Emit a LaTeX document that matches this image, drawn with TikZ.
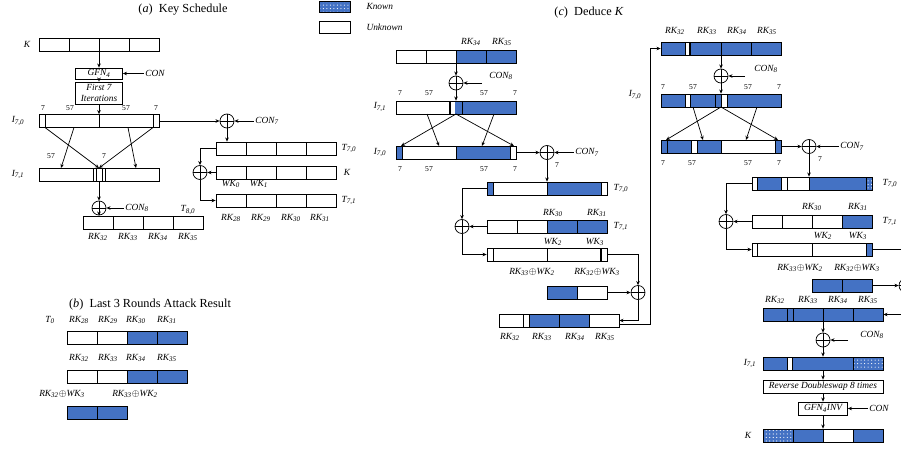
\documentclass[tikz,border=0pt]{standalone}
\usepackage{fontspec}
\setmainfont{Liberation Serif}
\usetikzlibrary{arrows.meta,patterns,positioning}

\definecolor{keyblue}{RGB}{68,114,196}
\newcommand{\ix}[2]{#1\textsubscript{#2}}

\tikzset{
  reg/.style={draw, inner sep=0pt, minimum height=0.39cm, minimum width=3.6cm},
  half/.style={reg, minimum width=1.8cm},
  known/.style={fill=keyblue},
  knowndot/.style={fill=keyblue, postaction={pattern=dots, pattern color=white}},
  xor/.style={circle, draw, inner sep=0pt, minimum size=0.42cm,
    path picture={\draw (path picture bounding box.north) -- (path picture bounding box.south)
                        (path picture bounding box.west) -- (path picture bounding box.east);}},
  lbl/.style={font=\fontsize{8}{9}\selectfont\itshape, inner sep=1pt},
  bits/.style={font=\fontsize{6.5}{7}\selectfont, inner sep=0pt},
  opbox/.style={draw, font=\fontsize{8}{9}\selectfont\itshape, inner sep=0pt, align=center},
  heading/.style={font=\fontsize{10.5}{12}\selectfont},
  wide/.style={line width=1.3pt}
}

\begin{document}
\begin{tikzpicture}[x=0.03cm, y=-0.03cm, line width=0.6pt, >={Stealth[length=3.5pt,width=3pt]}]
\useasboundingbox (0,0) rectangle (901,448);

% (a) key schedule
\node[heading] (ttla) at (183,10) {(\textit{a})\enspace Key Schedule};
\node[reg] (ka) at (99,44.5) {};
\foreach \x in {69,99,129} \draw (\x,38) -- (\x,51);
\node[lbl] (kla) at (27,44.5) {K};
\node[opbox, minimum width=1.41cm, minimum height=0.33cm] (gfn) at (99,73.5) {\ix{GFN}{4}};
\node[lbl] (cona) at (155,73.5) {CON};
\node[opbox, minimum width=1.41cm, minimum height=0.66cm] (firsta) at (99,93) {First 7\\Iterations};
\draw[->] (ka.south) -- (gfn.north);
\draw[->] (cona) -- (gfn);
\draw[->] (gfn.south) -- (firsta.north);

\node[reg] (i70a) at (99,121) {};
\foreach \x in {45,99,153} \draw (\x,114.5) -- (\x,127.5);
\draw[->] (firsta.south) -- (i70a.north);
\node[lbl] (li70a) at (18,121) {\ix{I}{7,0}};
\foreach \x/\t [count=\i] in {43/7,70/57,126/57,156/7} \node[bits] (ba\i) at (\x,108) {\t};

\node[reg] (i71a) at (99,174.5) {};
\foreach \x in {93,96,102,105} \draw (\x,168) -- (\x,181);
\node[lbl] (li71a) at (18,174.5) {\ix{I}{7,1}};
\coordinate (a7l) at (45,127.5);
\coordinate (a57l) at (74,127.5);
\coordinate (a57r) at (128,127.5);
\coordinate (a7r) at (153,127.5);
\coordinate (b57l) at (61,168);
\coordinate (b57r) at (136,168);
\coordinate (bmid) at (99,168);
\draw[->] (a57l) -- (b57l);
\draw[->] (a57r) -- (b57r);
\draw[->] (a7l) -- (bmid);
\draw[->] (a7r) -- (bmid);
\node[bits] (ba5) at (51,156) {57};
\node[bits] (ba6) at (104,156) {7};

\node[xor] (x8a) at (99,208) {};
\node[lbl] (con8a) at (137,208) {\ix{CON}{8}};
\draw[->] (i71a.south) -- (x8a);
\draw[->] (con8a) -- (x8a);
\node[reg] (t80a) at (143,222.5) {};
\foreach \x in {113,143,173} \draw (\x,216) -- (\x,229);
\draw[->] (x8a) -- (x8a |- t80a.north);
\node[lbl] (lt80a) at (188,210) {\ix{T}{8,0}};
\foreach \x/\n in {98/32,128/33,158/34,188/35} \node[lbl] (rka\n) at (\x,237) {\ix{RK}{\n}};

\node[xor] (x7a) at (227,121) {};
\node[lbl] (con7a) at (267,121) {\ix{CON}{7}};
\draw[->] (i70a.east) -- (x7a);
\draw[->] (con7a) -- (x7a);
\node[reg] (t70a) at (276,148.5) {};
\foreach \x in {246,276,306} \draw (\x,142) -- (\x,155);
\draw[->] (x7a) -- (x7a |- t70a.north);
\node[lbl] (lt70a) at (349,148.5) {\ix{T}{7,0}};
\node[reg] (k2a) at (276,172.5) {};
\foreach \x in {246,276,306} \draw (\x,166) -- (\x,179);
\node[lbl] (lk2a) at (347,172.5) {K};
\node[lbl] (wk0a) at (231,184) {\ix{WK}{0}};
\node[lbl] (wk1a) at (259,184) {\ix{WK}{1}};
\node[reg] (t71a) at (276,200.5) {};
\foreach \x in {246,276,306} \draw (\x,194) -- (\x,207);
\node[lbl] (lt71a) at (349,200.5) {\ix{T}{7,1}};
\foreach \x/\n in {231/28,261/29,291/30,320/31} \node[lbl] (rkb\n) at (\x,218) {\ix{RK}{\n}};
\node[xor] (xka) at (200,172.5) {};
\draw[->] (t70a.west) -| (xka);
\draw[->] (k2a.west) -- (xka);
\draw[->] (xka) |- (t71a.west);

% (b) attack result
\node[heading] (ttlb) at (150,305) {(\textit{b})\enspace Last 3 Rounds Attack Result};
\node[lbl] (lt0) at (50,320) {\ix{T}{0}};
\foreach \x/\n in {79/28,108/29,136/30,167/31} \node[lbl] (rkc\n) at (\x,320) {\ix{RK}{\n}};
\fill[known] (127,331) rectangle (187,344);
\draw (67,331) rectangle (187,344);
\foreach \x in {97,127,157} \draw (\x,331) -- (\x,344);
\foreach \x/\n in {79/32,108/33,136/34,167/35} \node[lbl] (rkd\n) at (\x,358) {\ix{RK}{\n}};
\fill[known] (127,370) rectangle (187,383);
\draw (67,370) rectangle (187,383);
\foreach \x in {97,127,157} \draw (\x,370) -- (\x,383);
\node[lbl] (mixb1) at (62,394) {\ix{RK}{32}$\oplus$\ix{WK}{3}};
\node[lbl] (mixb2) at (135,394) {\ix{RK}{33}$\oplus$\ix{WK}{2}};
\fill[known] (67,406) rectangle (127,419);
\draw (67,406) rectangle (127,419);
\draw (97,406) -- (97,419);

% legend
\fill[knowndot] (319,1) rectangle (350,12);
\draw (319,1) rectangle (350,12);
\node[lbl, anchor=west] (lgk) at (365,6) {Known};
\draw (319,21) rectangle (350,33);
\node[lbl, anchor=west] (lgu) at (365,27) {Unknown};

% (c) deduce K, first column
\node[heading] (ttlc) at (589,13) {(\textit{c})\enspace Deduce \textit{K}};
\fill[known] (456,50) rectangle (516,63);
\node[reg] (c1) at (456,56.5) {};
\foreach \x in {426,456,486} \draw (\x,50) -- (\x,63);
\node[lbl] (rkc34) at (471,42) {\ix{RK}{34}};
\node[lbl] (rkc35) at (502,42) {\ix{RK}{35}};
\node[xor] (xc8) at (456,83) {};
\coordinate (cc8) at (482,83);
\node[lbl] (conc8) at (501,76) {\ix{CON}{8}};
\draw[->] (c1.south) -- (xc8);
\draw[->] (cc8) -- (xc8);
\foreach \x/\t [count=\i] in {400/7,429/57,484/57,515/7} \node[bits] (bc\i) at (\x,93) {\t};

\fill[known] (455,101) rectangle (516,114);
\node[reg] (i71c) at (456,107.5) {};
\draw[wide] (450,101) -- (450,114);
\draw (462,101) -- (462,114);
\draw[->] (xc8) -- (i71c.north);
\node[lbl] (li71c) at (380,107) {\ix{I}{7,1}};
\coordinate (pc1) at (427,114);
\coordinate (pc2) at (494,114);
\coordinate (pcm) at (456,114);
\coordinate (qc1) at (439,146);
\coordinate (qc2) at (482,146);
\coordinate (qcl) at (401,146);
\coordinate (qcr) at (514,146);
\draw[->] (pc1) -- (qc1);
\draw[->] (pc2) -- (qc2);
\draw[->] (pcm) -- (qcl);
\draw[->] (pcm) -- (qcr);

\fill[known] (396,146) rectangle (402,159);
\fill[known] (456,146) rectangle (510,159);
\node[reg] (i70c) at (456,152.5) {};
\foreach \x in {402,456,510} \draw (\x,146) -- (\x,159);
\node[lbl] (li70c) at (380,152.5) {\ix{I}{7,0}};
\foreach \x/\t [count=\i] in {400/7,429/57,484/57,515/7} \node[bits] (bd\i) at (\x,169) {\t};
\node[xor] (xc7) at (547,152.5) {};
\node[lbl] (conc7) at (587,152.5) {\ix{CON}{7}};
\node[bits] (bc7) at (557,165) {7};
\draw[->] (i70c.east) -- (xc7);
\draw[->] (conc7) -- (xc7);

\fill[known] (487,182) rectangle (493,195);
\fill[known] (547,182) rectangle (601,195);
\node[reg] (t70c) at (547,188.5) {};
\foreach \x in {493,547,601} \draw (\x,182) -- (\x,195);
\draw[->] (xc7) -- (t70c.north);
\node[lbl] (lt70c) at (621,188.5) {\ix{T}{7,0}};

\fill[known] (547,220) rectangle (607,233);
\node[reg] (t71c) at (547,226.5) {};
\foreach \x in {517,547,577} \draw (\x,220) -- (\x,233);
\node[lbl] (rke30) at (553,213) {\ix{RK}{30}};
\node[lbl] (rke31) at (597,213) {\ix{RK}{31}};
\node[lbl] (lt71c) at (621,226.5) {\ix{T}{7,1}};

\node[reg] (w3c) at (547,254.5) {};
\foreach \x in {493,547} \draw (\x,248) -- (\x,261);
\draw[wide] (601,248) -- (601,261);
\node[lbl] (wk2c) at (553,242) {\ix{WK}{2}};
\node[lbl] (wk3c) at (595,242) {\ix{WK}{3}};
\node[lbl] (mixc1) at (532,272) {\ix{RK}{33}$\oplus$\ix{WK}{2}};
\node[lbl] (mixc2) at (597,272) {\ix{RK}{32}$\oplus$\ix{WK}{3}};
\node[xor] (xlc) at (462,226.5) {};
\draw[->] (t70c.west) -| (xlc);
\draw[->] (t71c.west) -- (xlc);
\draw[->] (xlc) |- (w3c.west);

\fill[known] (547,286) rectangle (577,299);
\node[half] (smc) at (577,292.5) {};
\draw (577,286) -- (577,299);
\node[xor] (xrc) at (638,292.5) {};
\draw[->] (smc.east) -- (xrc);
\draw[->] (w3c.east) -| (xrc);

\fill[known] (529,314) rectangle (589,327);
\node[reg] (bc) at (559,320.5) {};
\foreach \x in {523,529,559,589} \draw (\x,314) -- (\x,327);
\draw[->] (xrc) |- (bc.east);
\foreach \x/\n in {510/32,542/33,575/34,605/35} \node[lbl] (rkf\n) at (\x,337) {\ix{RK}{\n}};

% (c) second column
\fill[known] (661,42) rectangle (685,55);
\fill[known] (690,42) rectangle (781,55);
\node[reg] (d1) at (721,48.5) {};
\foreach \x in {685,721,751} \draw (\x,42) -- (\x,55);
\draw[wide] (690,42) -- (690,55);
\coordinate (bcout) at (619,324.5);
\draw[->] (bcout) -| ([xshift=-0.3cm]d1.west) -- (d1.west);
\foreach \x/\n in {675/32,707/33,737/34,767/35} \node[lbl] (rkg\n) at (\x,31) {\ix{RK}{\n}};
\node[xor] (xd8) at (721,76) {};
\coordinate (cd8) at (745,76);
\node[lbl] (cond8) at (766,69) {\ix{CON}{8}};
\draw[->] (d1.south) -- (xd8);
\draw[->] (cd8) -- (xd8);
\foreach \x/\t [count=\i] in {663/7,693/57,748/57,779/7} \node[bits] (be\i) at (\x,87) {\t};
\node[lbl] (li70d) at (635,95) {\ix{I}{7,0}};

\fill[known] (661,94) rectangle (685,107);
\fill[known] (690,94) rectangle (721,107);
\fill[known] (727,94) rectangle (781,107);
\node[reg] (d2) at (721,100.5) {};
\foreach \x in {685,690,715,721,727} \draw (\x,94) -- (\x,107);
\draw[->] (xd8) -- (d2.north);
\coordinate (pd1) at (693,107);
\coordinate (pd2) at (757,107);
\coordinate (pdm) at (721,107);
\coordinate (qd1) at (703,140);
\coordinate (qd2) at (746,140);
\coordinate (qdl) at (666,140);
\coordinate (qdr) at (778,140);
\draw[->] (pd1) -- (qd1);
\draw[->] (pd2) -- (qd2);
\draw[->] (pdm) -- (qdl);
\draw[->] (pdm) -- (qdr);

\fill[known] (661,140) rectangle (691,153);
\fill[known] (697,140) rectangle (721,153);
\fill[known] (775,140) rectangle (781,153);
\node[reg] (d3) at (721,146.5) {};
\foreach \x in {667,691,697,721,775} \draw (\x,140) -- (\x,153);
\foreach \x/\t [count=\i] in {663/7,692/57,748/57,779/7} \node[bits] (bf\i) at (\x,163) {\t};
\node[xor] (xd7) at (809,146.5) {};
\node[lbl] (cond7) at (852,146.5) {\ix{CON}{7}};
\node[bits] (bd7) at (820,159) {7};
\draw[->] (d3.east) -- (xd7);
\draw[->] (cond7) -- (xd7);

\fill[known] (757,177) rectangle (781,190);
\fill[known] (809,177) rectangle (866,190);
\fill[knowndot] (866,177) rectangle (872,190);
\node[reg] (t70d) at (812,183.5) {};
\foreach \x in {757,781,787,809,866} \draw (\x,177) -- (\x,190);
\draw[->] (xd7) -- (xd7 |- t70d.north);
\node[lbl] (lt70d) at (890,183.5) {\ix{T}{7,0}};

\fill[known] (842,215) rectangle (872,228);
\node[reg] (t71d) at (812,221.5) {};
\foreach \x in {782,812,842} \draw (\x,215) -- (\x,228);
\node[lbl] (rkh30) at (812,207) {\ix{RK}{30}};
\node[lbl] (rkh31) at (858,207) {\ix{RK}{31}};
\node[lbl] (lt71d) at (890,221.5) {\ix{T}{7,1}};

\fill[known] (866,243) rectangle (872,256);
\node[reg] (w3d) at (812,249.5) {};
\foreach \x in {757,812,866} \draw (\x,243) -- (\x,256);
\node[lbl] (wk2d) at (823,236) {\ix{WK}{2}};
\node[lbl] (wk3d) at (858,236) {\ix{WK}{3}};
\node[lbl] (mixd1) at (800,268) {\ix{RK}{33}$\oplus$\ix{WK}{2}};
\node[lbl] (mixd2) at (857,268) {\ix{RK}{32}$\oplus$\ix{WK}{3}};
\node[xor] (xld) at (726,221.5) {};
\draw[->] (t70d.west) -| (xld);
\draw[->] (t71d.west) -- (xld);
\draw[->] (xld) |- (w3d.west);

\fill[known] (812,279) rectangle (872,292);
\node[half] (smd) at (842,285.5) {};
\draw (842,279) -- (842,292);
\node[xor] (xrd) at (906,285.5) {};
\draw[->] (smd.east) -- (xrd);
\draw[->] (w3d.east) -| (xrd);

\fill[known] (763,308) rectangle (883,321);
\node[reg] (bd) at (823,314.5) {};
\foreach \x in {787,793,823,853} \draw (\x,308) -- (\x,321);
\draw[->] (xrd) |- (bd.east);
\foreach \x/\n in {775/32,808/33,838/34,868/35} \node[lbl] (rki\n) at (\x,300) {\ix{RK}{\n}};
\node[xor] (xd8b) at (823,340) {};
\coordinate (cd8b) at (848,340);
\node[lbl] (cond8b) at (872,335) {\ix{CON}{8}};
\draw[->] (bd.south) -- (xd8b);
\draw[->] (cd8b) -- (xd8b);

\fill[known] (763,357) rectangle (787,370);
\fill[known] (792,357) rectangle (853,370);
\fill[knowndot] (853,357) rectangle (883,370);
\node[reg] (i71d) at (823,363.5) {};
\foreach \x in {787,792,853} \draw (\x,357) -- (\x,370);
\node[lbl] (li71d) at (750,363.5) {\ix{I}{7,1}};
\draw[->] (xd8b) -- (i71d.north);

\node[opbox, minimum width=3.6cm, minimum height=0.39cm] (rev) at (823,386.5) {Reverse Doubleswap 8 times};
\node[opbox, minimum width=1.47cm, minimum height=0.39cm] (ginv) at (823,408.5) {\ix{GFN}{4}INV};
\node[lbl] (cond) at (879,408.5) {CON};
\draw[->] (i71d.south) -- (rev.north);
\draw[->] (rev.south) -- (ginv.north);
\draw[->] (cond) -- (ginv);

\fill[knowndot] (763,429) rectangle (793,442);
\fill[known] (793,429) rectangle (823,442);
\fill[known] (853,429) rectangle (883,442);
\node[reg] (kd) at (823,435.5) {};
\foreach \x in {793,823,853} \draw (\x,429) -- (\x,442);
\node[lbl] (lkd) at (748,435.5) {K};
\draw[->] (ginv.south) -- (kd.north);
\end{tikzpicture}
\end{document}
